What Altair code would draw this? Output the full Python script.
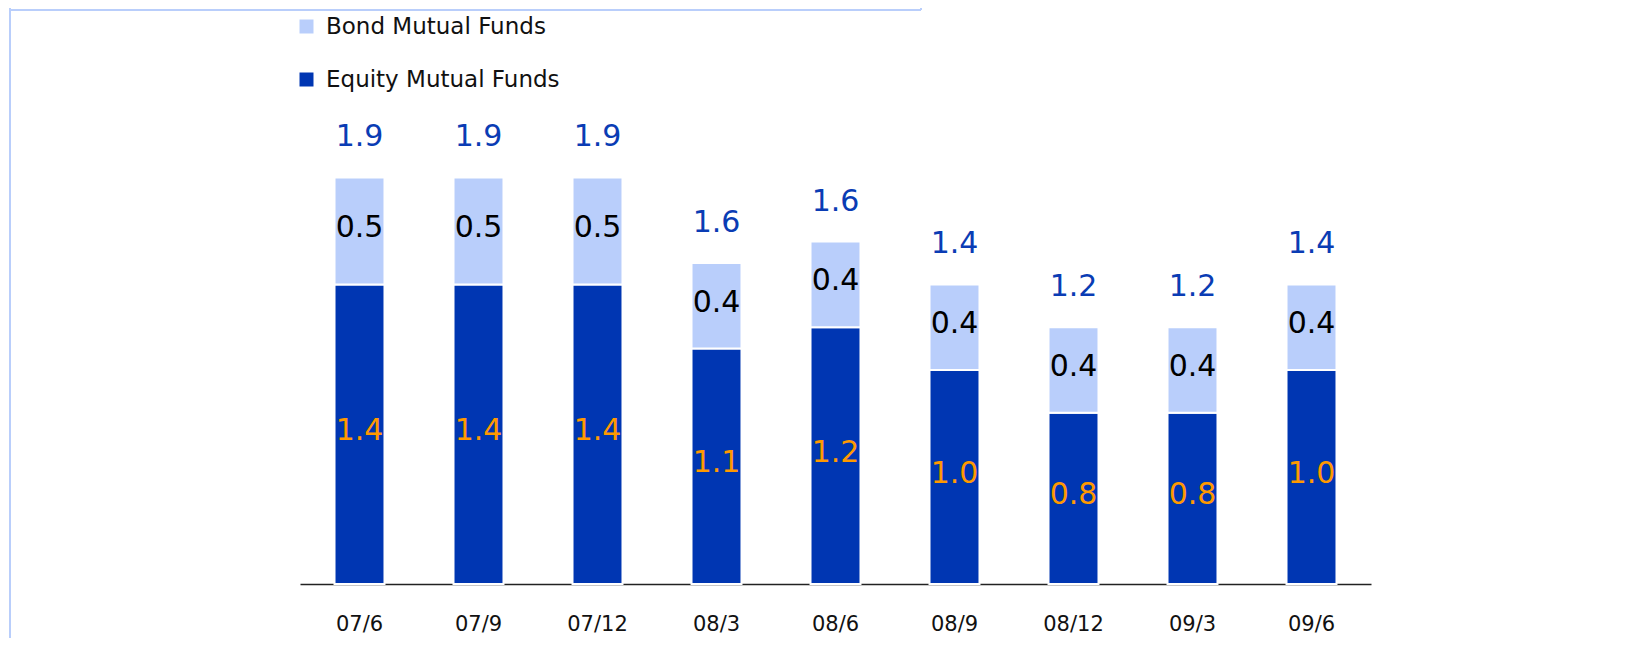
import altair as alt
import pandas as pd

periods = ["07/6", "07/9", "07/12", "08/3", "08/6", "08/9", "08/12", "09/3", "09/6"]
equity = [1.4, 1.4, 1.4, 1.1, 1.2, 1.0, 0.8, 0.8, 1.0]
bond = [0.5, 0.5, 0.5, 0.4, 0.4, 0.4, 0.4, 0.4, 0.4]
totals = [1.9, 1.9, 1.9, 1.6, 1.6, 1.4, 1.2, 1.2, 1.4]
series = ["Bond Mutual Funds", "Equity Mutual Funds"]
colors = ["#B9CEFB", "#0036B2"]

rows = []
for p, e, b in zip(periods, equity, bond):
    rows.append(dict(period=p, series=series[1], start=0.0, end=e, value=e))
    rows.append(dict(period=p, series=series[0], start=e, end=e + b, value=b))
df = pd.DataFrame(rows)
df["mid"] = (df["start"] + df["end"]) / 2
df["label"] = df["value"].map(lambda v: f"{v:.1f}")

tot = pd.DataFrame(dict(period=periods,
                        top=[e + b for e, b in zip(equity, bond)],
                        label=[f"{t:.1f}" for t in totals]))

FONT = "DejaVu Sans"

xenc = alt.X("period:N", sort=periods,
             scale=alt.Scale(paddingInner=0.58, paddingOuter=0.29),
             axis=alt.Axis(title=None, labelAngle=0, ticks=False, tickSize=0,
                           domainColor="#222222", domainWidth=1.5, grid=False,
                           labelFont=FONT, labelFontSize=21, labelColor="#111111",
                           labelPadding=46, labelBaseline="alphabetic"))
yscale = alt.Scale(domain=[0, 2], nice=False)

bars = alt.Chart(df).mark_bar(stroke="white", strokeWidth=2).encode(
    x=xenc,
    y=alt.Y("start:Q", scale=yscale, axis=None),
    y2="end:Q",
    color=alt.Color("series:N",
                    scale=alt.Scale(domain=series, range=colors),
                    legend=alt.Legend(orient="none", legendX=-5, legendY=-141,
                                      direction="vertical", title=None,
                                      symbolType="square", symbolSize=196,
                                      symbolStrokeWidth=0, labelFont=FONT,
                                      labelFontSize=23, labelColor="#111111",
                                      labelLimit=500,
                                      rowPadding=29, labelOffset=8, padding=0)),
)

seg_labels = alt.Chart(df).mark_text(font=FONT, fontSize=30, baseline="alphabetic",
                                     dy=6).encode(
    x=alt.X("period:N", sort=periods),
    y=alt.Y("mid:Q", scale=yscale),
    text="label:N",
    color=alt.condition(alt.datum.series == series[1],
                        alt.value("#FF9900"), alt.value("#000000")),
)

tot_labels = alt.Chart(tot).mark_text(font=FONT, fontSize=30, baseline="alphabetic",
                                      dy=-31, color="#0A3CB4").encode(
    x=alt.X("period:N", sort=periods),
    y=alt.Y("top:Q", scale=yscale),
    text="label:N",
)

frame_df = pd.DataFrame({"k": [0]})
left_line = alt.Chart(frame_df).mark_rule(color="#B9CEFB", strokeWidth=2).encode(
    x=alt.value(-290), y=alt.value(-148), y2=alt.value(495))
top_line = alt.Chart(frame_df).mark_rule(color="#B9CEFB", strokeWidth=2).encode(
    x=alt.value(-290), x2=alt.value(621), y=alt.value(-146))
right_line = alt.Chart(frame_df).mark_rule(color="#B9CEFB", strokeWidth=2).encode(
    x=alt.value(621), y=alt.value(-148), y2=alt.value(-146))

chart = alt.layer(left_line, top_line, right_line, bars, seg_labels, tot_labels).properties(
    width=1071, height=428,
    padding={"left": 292, "top": 148, "right": 246, "bottom": 54},
    autosize=alt.AutoSizeParams(type="none"),
).configure_view(stroke=None)

chart.save("out.html", embed_options={"renderer": "svg", "actions": False})
